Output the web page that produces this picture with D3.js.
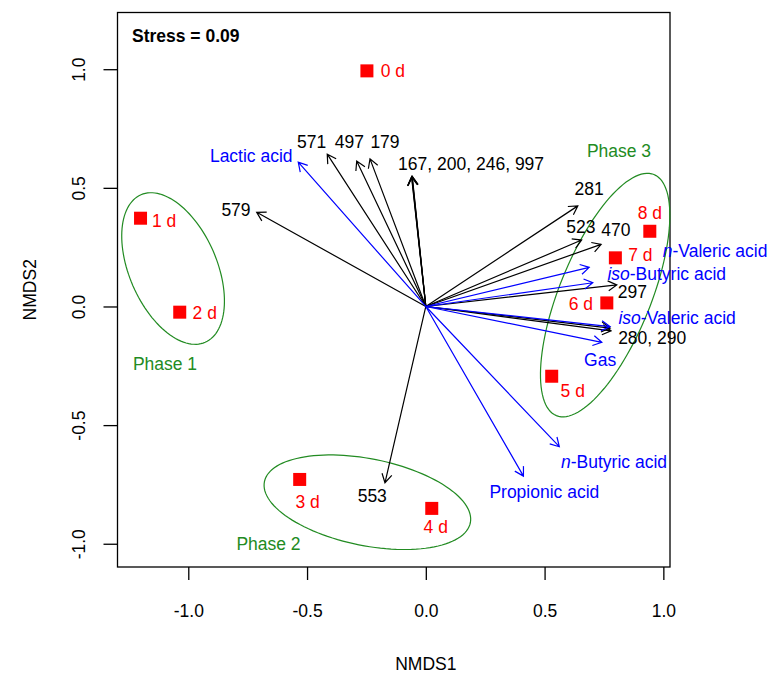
<!DOCTYPE html>
<html>
<head>
<meta charset="utf-8">
<script src="https://cdn.jsdelivr.net/npm/d3@7"></script>
<style>
body { margin: 0; background: #fff; }
text { font-family: "Liberation Sans", Arial, sans-serif; }
</style>
</head>
<body>
<div id="canvas"></div>
<script>
// ----------------------------------------------------------
// DATA -----------------------------------------------------
// ----------------------------------------------------------
// samples (site scores)
var sample_names = ["0 d", "1 d", "2 d", "3 d", "4 d", "5 d", "6 d", "7 d", "8 d"];
var sample_nmds1 = [-0.248, -1.201, -1.036, -0.531, 0.025, 0.530, 0.762, 0.798, 0.943];
var sample_nmds2 = [0.993, 0.372, -0.024, -0.729, -0.851, -0.294, 0.015, 0.205, 0.317];

// OTU vectors (black)
var otu_names = ["571", "497", "179", "167", "200", "246", "997", "579", "553", "281", "523", "470", "297", "280", "290"];
var otu_nmds1 = [-0.415, -0.291, -0.235, -0.059, -0.058, -0.060, -0.057, -0.712, -0.172, 0.640, 0.656, 0.738, 0.804, 0.776, 0.780];
var otu_nmds2 = [0.642, 0.613, 0.622, 0.547, 0.549, 0.546, 0.548, 0.397, -0.743, 0.424, 0.280, 0.262, 0.091, -0.091, -0.103];
var otu_labels = ["571", "497", "179", "167, 200, 246, 997", "", "", "", "579", "553", "281", "523", "470", "297", "280, 290", ""];

// fermentation product vectors (blue)
var env_names = ["Lactic acid", "n-Valeric acid", "iso-Butyric acid", "iso-Valeric acid", "Gas", "n-Butyric acid", "Propionic acid"];
var env_nmds1 = [-0.537, 0.688, 0.703, 0.776, 0.741, 0.562, 0.411];
var env_nmds2 = [0.608, 0.165, 0.100, -0.085, -0.151, -0.591, -0.715];

// phase ellipses
var phase_names = ["Phase 1", "Phase 2", "Phase 3"];
var phase_cx = [-1.064, -0.246, 0.755];
var phase_cy = [0.160, -0.825, 0.048];
var phase_a = [0.339, 0.442, 0.548];
var phase_b = [0.184, 0.183, 0.193];
var phase_angle = [-66.5, -11.3, 68];

// axis ticks
var x_ticks = [-1.0, -0.5, 0.0, 0.5, 1.0];
var y_ticks = [-1.0, -0.5, 0.0, 0.5, 1.0];
var stress_text = "Stress = 0.09";

var data_set =
{
container_width: 771,
container_height: 675,
box_left: 117.5,
box_right: 670,
box_top: 12.5,
box_bottom: 567,
x_domain: [-1.298, 1.028],
y_domain: [-1.098, 1.239],
font_size: 17.5,
color_sample: "#ff0000",
color_otu: "#000000",
color_env: "#0000ff",
color_phase: "#228b22"
};

// label placement (pixel offsets from the mark)
var sample_label_offset = {
"0 d": [26, 0], "1 d": [23.5, 2], "2 d": [25, 1], "3 d": [8, 22], "4 d": [4, 18.5],
"5 d": [21, 14], "6 d": [-26, 1], "7 d": [25, -3], "8 d": [0, -18.5]
};
var otu_label_offset = {
"571": [-15.6, -12.6], "497": [-7.4, -19.3], "179": [15, -17.3], "167, 200, 246, 997": [59.3, -13.4],
"579": [-20.7, -2.3], "553": [-12.7, 13.3], "281": [11.3, -16.7], "523": [-0.7, -13.3],
"470": [14.7, -14.3], "297": [15.6, 6.7], "280, 290": [8, 9.3, "start"]
};
var env_label_offset = {
"Lactic acid": [-47, -6.6], "n-Valeric acid": [73.5, -16.5, "start"], "iso-Butyric acid": [14.6, -9.4, "start"],
"iso-Valeric acid": [8.3, -9.4, "start"], "Gas": [-1.7, 17], "n-Butyric acid": [1.7, 15, "start"],
"Propionic acid": [20.9, 15.7]
};
var phase_label_pos = { "Phase 1": [165, 364], "Phase 2": [268.5, 544], "Phase 3": [619, 150.7] };


// ----------------------------------------------------------
// STRUCTURE ------------------------------------------------
// ----------------------------------------------------------
var container = d3.select("#canvas").append("svg")
.attr("width", data_set.container_width)
.attr("height", data_set.container_height)
.style("background-color", "#fff")
.style("font-size", data_set.font_size + "px");

var xScale = d3.scaleLinear()
.domain(data_set.x_domain)
.range([data_set.box_left, data_set.box_right]);
var yScale = d3.scaleLinear()
.domain(data_set.y_domain)
.range([data_set.box_bottom, data_set.box_top]);

var gfx_group = container.append("g").attr("class", "gfx_group");
var text_group = container.append("g").attr("class", "text_group");


// ----------------------------------------------------------
// AXES -----------------------------------------------------
// ----------------------------------------------------------
var axis_bottom = gfx_group.append("g")
.attr("class", "gfx_scale_bottom")
.attr("transform", `translate(0, ${data_set.box_bottom})`)
.call(d3.axisBottom(xScale)
.tickValues(x_ticks)
.tickSize(13)
.tickFormat((d) => d.toFixed(1)));
axis_bottom.select(".domain").remove();
axis_bottom.selectAll("line").attr("stroke", "#000").attr("stroke-width", 1.3);
axis_bottom.selectAll("text")
.attr("y", 50)
.attr("dy", 0)
.attr("fill", "#000")
.style("font-size", data_set.font_size + "px")
.style("font-family", "'Liberation Sans', Arial, sans-serif");

var axis_left = gfx_group.append("g")
.attr("class", "gfx_scale_left")
.attr("transform", `translate(${data_set.box_left}, 0)`)
.call(d3.axisLeft(yScale)
.tickValues(y_ticks)
.tickSize(14)
.tickFormat((d) => d.toFixed(1)));
axis_left.select(".domain").remove();
axis_left.selectAll("line").attr("stroke", "#000").attr("stroke-width", 1.3);
axis_left.selectAll("text")
.attr("x", null)
.attr("dy", 0)
.attr("text-anchor", "middle")
.attr("transform", "translate(-32.5, 0) rotate(-90)")
.attr("fill", "#000")
.style("font-size", data_set.font_size + "px")
.style("font-family", "'Liberation Sans', Arial, sans-serif");

// axis titles
text_group.append("text")
.attr("x", xScale(0))
.attr("y", 670)
.attr("text-anchor", "middle")
.text("NMDS1");
text_group.append("text")
.attr("transform", `translate(36, ${(data_set.box_top + data_set.box_bottom) / 2}) rotate(-90)`)
.attr("text-anchor", "middle")
.text("NMDS2");

// box
gfx_group.append("rect")
.attr("x", data_set.box_left)
.attr("y", data_set.box_top)
.attr("width", data_set.box_right - data_set.box_left)
.attr("height", data_set.box_bottom - data_set.box_top)
.attr("fill", "none")
.attr("stroke", "#000")
.attr("stroke-width", 1.3);


// ----------------------------------------------------------
// ELLIPSES -------------------------------------------------
// ----------------------------------------------------------
var ellipse_line = d3.line()
.x((p) => xScale(p[0]))
.y((p) => yScale(p[1]))
.curve(d3.curveLinearClosed);

phase_names.forEach(function (name, i) {
var rad = phase_angle[i] * Math.PI / 180;
var pts = d3.range(0, 361, 3).map(function (deg) {
var t = deg * Math.PI / 180;
var ex = phase_a[i] * Math.cos(t);
var ey = phase_b[i] * Math.sin(t);
return [phase_cx[i] + ex * Math.cos(rad) - ey * Math.sin(rad),
phase_cy[i] + ex * Math.sin(rad) + ey * Math.cos(rad)];
});
gfx_group.append("path")
.attr("class", "gfx_ellipse")
.attr("d", ellipse_line(pts))
.attr("fill", "none")
.attr("stroke", data_set.color_phase)
.attr("stroke-width", 1.2);
text_group.append("text")
.attr("x", phase_label_pos[name][0])
.attr("y", phase_label_pos[name][1])
.attr("dy", "0.36em")
.attr("text-anchor", "middle")
.attr("fill", data_set.color_phase)
.text(name);
});


// ----------------------------------------------------------
// ARROWS ---------------------------------------------------
// ----------------------------------------------------------
var x0 = xScale(0);
var y0 = yScale(0);
var head_len = 10;
var head_ang = 30 * Math.PI / 180;

function arrowPath(x1, y1) {
var ang = Math.atan2(y1 - y0, x1 - x0);
var ax = x1 - head_len * Math.cos(ang - head_ang);
var ay = y1 - head_len * Math.sin(ang - head_ang);
var bx = x1 - head_len * Math.cos(ang + head_ang);
var by = y1 - head_len * Math.sin(ang + head_ang);
return `M${x0},${y0}L${x1},${y1}M${ax},${ay}L${x1},${y1}L${bx},${by}`;
}

function drawArrows(names, xs, ys, color, cls) {
gfx_group.selectAll("." + cls)
.data(names)
.enter()
.append("path")
.attr("class", cls)
.attr("d", (d, i) => arrowPath(xScale(xs[i]), yScale(ys[i])))
.attr("fill", "none")
.attr("stroke", color)
.attr("stroke-width", 1.2);
}

drawArrows(otu_names, otu_nmds1, otu_nmds2, data_set.color_otu, "gfx_otu");
drawArrows(env_names, env_nmds1, env_nmds2, data_set.color_env, "gfx_env");

// OTU labels
otu_labels.forEach(function (lab, i) {
if (lab === "") return;
var off = otu_label_offset[lab];
text_group.append("text")
.attr("x", xScale(otu_nmds1[i]) + off[0])
.attr("y", yScale(otu_nmds2[i]) + off[1])
.attr("dy", "0.36em")
.attr("text-anchor", off[2] || "middle")
.attr("fill", data_set.color_otu)
.text(lab);
});

// product labels, italic prefix
env_names.forEach(function (lab, i) {
var off = env_label_offset[lab];
var t = text_group.append("text")
.attr("x", xScale(env_nmds1[i]) + off[0])
.attr("y", yScale(env_nmds2[i]) + off[1])
.attr("dy", "0.36em")
.attr("text-anchor", off[2] || "middle")
.attr("fill", data_set.color_env);
var m = lab.match(/^(n|iso)-(.*)$/);
if (m) {
t.append("tspan").style("font-style", "italic").text(m[1]);
t.append("tspan").text("-" + m[2]);
} else {
t.text(lab);
}
});


// ----------------------------------------------------------
// SAMPLES --------------------------------------------------
// ----------------------------------------------------------
var square = 13;
var gfx_sample = gfx_group.selectAll(".gfx_sample")
.data(sample_names)
.enter()
.append("rect")
.attr("class", "gfx_sample")
.attr("x", (d, i) => xScale(sample_nmds1[i]) - square / 2)
.attr("y", (d, i) => yScale(sample_nmds2[i]) - square / 2)
.attr("width", square)
.attr("height", square)
.attr("fill", data_set.color_sample);

text_group.selectAll(".sample_label")
.data(sample_names)
.enter()
.append("text")
.attr("class", "sample_label")
.attr("x", (d, i) => xScale(sample_nmds1[i]) + sample_label_offset[d][0])
.attr("y", (d, i) => yScale(sample_nmds2[i]) + sample_label_offset[d][1])
.attr("dy", "0.36em")
.attr("text-anchor", "middle")
.attr("fill", data_set.color_sample)
.text((d) => d);

// stress
text_group.append("text")
.attr("x", 132)
.attr("y", 41.5)
.attr("font-weight", "bold")
.attr("fill", "#000")
.text(stress_text);
</script>
</body>
</html>
